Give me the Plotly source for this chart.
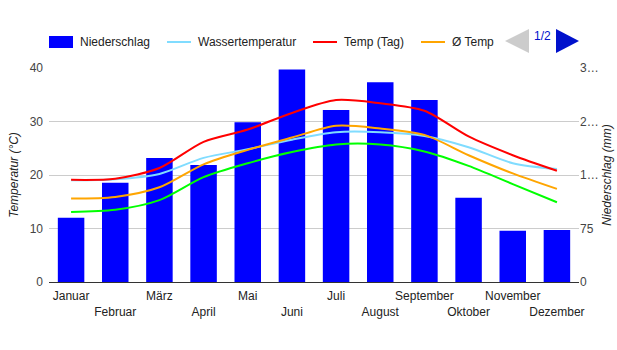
import plotly.graph_objects as go

months = ["Januar", "Februar", "März", "April", "Mai", "Juni", "Juli",
          "August", "September", "Oktober", "November", "Dezember"]
niederschlag = [90, 139, 174, 164, 224, 298, 241, 280, 255, 118, 72, 73]
wasser = [19.0, 19.2, 20.2, 23.2, 24.8, 26.6, 28.0, 28.0, 27.3, 25.2, 22.2, 21.1]
temp_tag = [19.1, 19.3, 21.3, 26.2, 28.5, 31.6, 34.0, 33.4, 32.0, 27.2, 23.7, 20.8]
temp_avg = [15.6, 15.9, 17.7, 22.0, 24.7, 27.0, 29.2, 28.7, 27.5, 23.7, 20.3, 17.4]
temp_nacht = [13.1, 13.5, 15.3, 19.6, 22.2, 24.3, 25.7, 25.7, 24.4, 21.7, 18.3, 14.9]

left_ticks = [0, 10, 20, 30, 40]
right_ticks = [0, 75, 150, 225, 300]
right_ticktext = ["0", "75", "1…", "2…", "3…"]

FONT = "Arial, Liberation Sans, sans-serif"
L, W, T, H = 49, 530, 68, 214  # plot area in px


def px(x):
    return (x - L) / W


def py(y):
    return (T + H - y) / H


fig = go.Figure()
fig.add_trace(go.Bar(x=months, y=niederschlag, name="Niederschlag",
                     marker=dict(color="#0000ff", line=dict(width=0)),
                     yaxis="y", showlegend=False))
line_specs = [
    ("Wassertemperatur", wasser, "#80dcff"),
    ("Temp (Tag)", temp_tag, "#ff0000"),
    ("Ø Temp", temp_avg, "#ffa500"),
    ("Temp (Nacht)", temp_nacht, "#00ff00"),
]
for name, vals, col in line_specs:
    fig.add_trace(go.Scatter(x=months, y=vals, name=name, mode="lines",
                             line=dict(color=col, width=2, shape="spline", smoothing=0.8),
                             yaxis="y2", showlegend=False))

ticktext = [m if i % 2 == 0 else "<br>" + m for i, m in enumerate(months)]

fig.update_layout(
    width=617, height=350,
    margin=dict(l=L, r=617 - L - W, t=T, b=350 - T - H, autoexpand=False),
    paper_bgcolor="white", plot_bgcolor="white",
    font=dict(family=FONT, size=12, color="#444"),
    bargap=0.4,
    xaxis=dict(type="category", tickvals=months, ticktext=ticktext, tickangle=0,
               showgrid=False, ticks="", tickfont=dict(size=12, color="#222"),
               ticklabelstandoff=5, showline=False, zeroline=False),
    yaxis=dict(side="right", range=[0, 300], tickvals=right_ticks,
               ticktext=right_ticktext, showgrid=True, gridcolor="#cccccc",
               zeroline=True, zerolinecolor="#333333", zerolinewidth=1,
               tickfont=dict(size=12, color="#444"), ticks="",
               title=dict(text="<i>Niederschlag (mm)</i>", standoff=4,
                          font=dict(size=12, color="#222"))),
    yaxis2=dict(side="left", overlaying="y", range=[0, 40], tickvals=left_ticks,
                showgrid=False, zeroline=False, ticks="", ticklabelstandoff=5,
                tickfont=dict(size=12, color="#444"),
                title=dict(text="<i>Temperatur (°C)</i>", standoff=8,
                           font=dict(size=12, color="#222"))),
)

shapes = []
annotations = []
# Legend (page 1 of 2)
shapes.append(dict(type="rect", xref="paper", yref="paper",
                   x0=px(49), x1=px(73), y0=py(48), y1=py(36),
                   fillcolor="#0000ff", line=dict(width=0)))
legend_items = [
    ("Niederschlag", 78, None, None),
    ("Wassertemperatur", 196, 167, "#80dcff"),
    ("Temp (Tag)", 342, 313, "#ff0000"),
    ("Ø Temp", 450, 421, "#ffa500"),
]
for text, tx, lx, col in legend_items:
    if lx is not None:
        shapes.append(dict(type="line", xref="paper", yref="paper",
                           x0=px(lx), x1=px(lx + 24), y0=py(42), y1=py(42),
                           line=dict(color=col, width=2)))
    annotations.append(dict(text=text, xref="paper", yref="paper", x=px(tx), y=py(42),
                            xanchor="left", yanchor="middle", showarrow=False,
                            font=dict(size=12, color="#222", family=FONT)))
# pagination arrows
shapes.append(dict(type="path", xref="paper", yref="paper",
                   path=f"M {px(505)} {py(41)} L {px(529)} {py(29)} L {px(529)} {py(53)} Z",
                   fillcolor="#cccccc", line=dict(width=0)))
shapes.append(dict(type="path", xref="paper", yref="paper",
                   path=f"M {px(579)} {py(41)} L {px(556)} {py(29)} L {px(556)} {py(53)} Z",
                   fillcolor="#0011cc", line=dict(width=0)))
annotations.append(dict(text="1/2", xref="paper", yref="paper", x=px(542), y=py(36),
                        xanchor="center", yanchor="middle", showarrow=False,
                        font=dict(size=12, color="#0011cc", family=FONT)))
fig.update_layout(shapes=shapes, annotations=annotations)

fig.write_html("out.html")
